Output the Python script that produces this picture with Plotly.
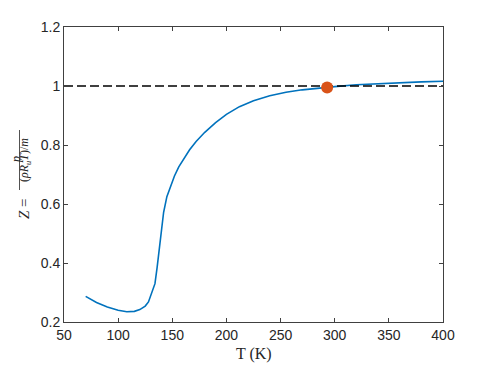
import plotly.graph_objects as go

# data
temperature = [70, 80, 90, 100, 108, 115, 120, 125, 128, 131, 134, 136, 138, 140, 142, 145,
               148, 152, 156, 160, 166, 172, 180, 190, 200, 212, 225, 240, 255, 270, 285,
               300, 320, 340, 360, 380, 400]
z_factor = [0.287, 0.266, 0.251, 0.240, 0.235, 0.236, 0.242, 0.254, 0.268, 0.296, 0.330,
            0.385, 0.455, 0.520, 0.572, 0.625, 0.655, 0.695, 0.726, 0.751, 0.784, 0.812,
            0.843, 0.876, 0.904, 0.930, 0.950, 0.967, 0.979, 0.987, 0.993, 0.998, 1.004,
            1.008, 1.011, 1.014, 1.016]
ref_line_x = [50, 400]
ref_line_y = [1, 1]
point_t = [293]
point_z = [0.995]

x_ticks = [50, 100, 150, 200, 250, 300, 350, 400]
y_ticks = [0.2, 0.4, 0.6, 0.8, 1.0, 1.2]
y_tick_text = ["0.2", "0.4", "0.6", "0.8", "1", "1.2"]

axis_col = "#404040"
sans = "Liberation Sans, Arial, sans-serif"
serif = "Liberation Serif, DejaVu Serif, serif"

fig = go.Figure()
fig.add_trace(go.Scatter(x=temperature, y=z_factor, mode="lines",
                         line=dict(color="#0072BD", width=1.6), showlegend=False))
fig.add_trace(go.Scatter(x=ref_line_x, y=ref_line_y, mode="lines",
                         line=dict(color="black", width=1.4, dash="9px,4px"), showlegend=False))
fig.add_trace(go.Scatter(x=point_t, y=point_z, mode="markers",
                         marker=dict(color="#D95319", size=12), showlegend=False))

axis_style = dict(showline=True, linecolor=axis_col, linewidth=1, mirror="ticks",
                  ticks="inside", ticklen=4, tickcolor=axis_col, showgrid=False,
                  zeroline=False, tickfont=dict(family=sans, size=14, color="#262626"))
fig.update_xaxes(range=[50, 400], tickvals=x_ticks, **axis_style)
fig.update_yaxes(range=[0.2, 1.2], tickvals=y_ticks, ticktext=y_tick_text, **axis_style)

# page has an 8px body margin, so the figure is a bit smaller and shifted
OFF = 8
W, H = 483, 360
L, R, T, B = 56, 48, 19, 46
pw, ph = W - L - R, H - T - B


def px(x):
    return (x - OFF - L) / pw


def py(y):
    return (H + OFF - B - y) / ph


annots = [
    dict(text="T (K)", x=0.5, y=py(354), font=dict(family=serif, size=16, color="#262626")),
    dict(text="<i>Z</i> =", x=px(24), y=py(209), textangle=-90,
         font=dict(family=serif, size=15, color="#262626")),
    dict(text="<i>p</i>", x=px(16), y=py(160), textangle=-90,
         font=dict(family=serif, size=12, color="#262626")),
    dict(text="(<i>ρR<sub>u</sub>T</i>)/<i>m</i>", x=px(25), y=py(160), textangle=-90,
         font=dict(family=serif, size=12, color="#262626")),
]
for a in annots:
    fig.add_annotation(xref="paper", yref="paper", showarrow=False,
                       xanchor="center", yanchor="middle", **a)

fig.add_shape(type="line", xref="paper", yref="paper", x0=px(19.5), x1=px(19.5),
              y0=py(130), y1=py(190), line=dict(color="#262626", width=0.8))

fig.update_layout(width=W, height=H, margin=dict(l=L, r=R, t=T, b=B),
                  paper_bgcolor="white", plot_bgcolor="white")

fig.write_html("out.html")
